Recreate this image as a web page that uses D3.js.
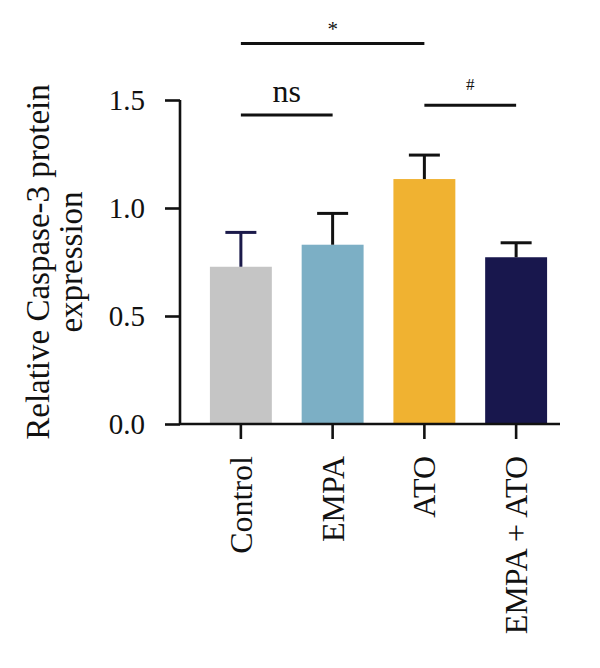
<!DOCTYPE html>
<html lang="en">
<head>
    <meta charset="UTF-8">
    <title>Relative Caspase-3 protein expression</title>
    <script src="https://d3js.org/d3.v7.min.js"></script>
    <style>
        body { margin: 0; background: #fff; }
        svg text { font-family: "Liberation Serif", "Times New Roman", serif; fill: #111; }
    </style>
</head>
<body>
    <div id="chart"></div>

    <script type="text/javascript">
        // values
        let groups = ["Control", "EMPA", "ATO", "EMPA + ATO"];
        let means = [0.728, 0.830, 1.134, 0.772];
        let errors = [0.159, 0.145, 0.111, 0.067];
        let barColors = ["#c5c5c5", "#7cafc5", "#f0b231", "#18174d"];
        let errColors = ["#1b1a4a", "#111", "#111", "#111"];
        let yTicks = [0, 0.5, 1.0, 1.5];

        // significance brackets
        let sigFrom = ["Control", "Control", "ATO"];
        let sigTo = ["ATO", "EMPA", "EMPA + ATO"];
        let sigLevel = [1.761, 1.431, 1.476];
        let sigText = ["*", "ns", "#"];

        let width = 600, height = 668;

        let svg = d3.select("#chart").append("svg")
            .attr("width", width)
            .attr("height", height);

        let x = d3.scaleBand()
            .domain(groups)
            .range([195, 562])
            .paddingInner(0.325)
            .paddingOuter(0.1625);

        let y = d3.scaleLinear()
            .domain([0, 1.5])
            .range([424, 100]);

        // bars
        svg.selectAll("rect.bar")
            .data(groups)
            .enter()
            .append("rect")
            .attr("class", "bar")
            .attr("x", d => x(d))
            .attr("y", (d, i) => y(means[i]))
            .attr("width", x.bandwidth())
            .attr("height", (d, i) => y(0) - y(means[i]))
            .style("fill", (d, i) => barColors[i]);

        // error bars (upper only)
        let eb = svg.selectAll("g.err")
            .data(groups)
            .enter()
            .append("g")
            .attr("class", "err")
            .style("stroke", (d, i) => errColors[i])
            .style("stroke-width", 3);
        eb.append("line")
            .attr("x1", d => x(d) + x.bandwidth() / 2)
            .attr("x2", d => x(d) + x.bandwidth() / 2)
            .attr("y1", (d, i) => y(means[i]))
            .attr("y2", (d, i) => y(means[i] + errors[i]));
        eb.append("line")
            .attr("x1", d => x(d) + x.bandwidth() / 2 - 15.5)
            .attr("x2", d => x(d) + x.bandwidth() / 2 + 15.5)
            .attr("y1", (d, i) => y(means[i] + errors[i]))
            .attr("y2", (d, i) => y(means[i] + errors[i]));

        // y axis
        let yAxis = svg.append("g")
            .attr("transform", "translate(180,0)")
            .call(d3.axisLeft(y).tickValues(yTicks).tickFormat(d3.format(".1f")).tickSize(15).tickPadding(20));
        yAxis.select(".domain").attr("d", "M0," + y(1.5) + "V" + y(0));

        // x axis
        let xAxis = svg.append("g")
            .attr("transform", "translate(0," + y(0) + ")")
            .call(d3.axisBottom(x).tickSize(15).tickSizeOuter(0));
        xAxis.select(".domain").attr("d", "M180,0H560");

        svg.selectAll(".domain, .tick line")
            .style("stroke", "#111")
            .style("stroke-width", 2.6);

        yAxis.selectAll(".tick text")
            .style("font-size", "29px")
            .attr("dy", "0.34em");

        xAxis.selectAll(".tick text")
            .style("font-size", "32px")
            .attr("text-anchor", "end")
            .attr("transform", "rotate(-90)")
            .attr("x", -32)
            .attr("y", 0)
            .attr("dy", "0.34em");

        // y label
        let yl = svg.append("text")
            .attr("transform", "translate(49,262) rotate(-90)")
            .attr("text-anchor", "middle")
            .style("font-size", "33px");
        yl.append("tspan").attr("x", 0).attr("y", 0).text("Relative Caspase-3 protein");
        yl.append("tspan").attr("x", 0).attr("y", 33).text("expression");

        // brackets
        let cx = d => x(d) + x.bandwidth() / 2;
        sigText.forEach(function (t, i) {
            let x1 = cx(sigFrom[i]), x2 = cx(sigTo[i]), ly = y(sigLevel[i]);
            svg.append("line")
                .attr("x1", x1).attr("x2", x2)
                .attr("y1", ly).attr("y2", ly)
                .style("stroke", "#111")
                .style("stroke-width", 3);
            let fs = t == "ns" ? 32 : (t == "#" ? 17 : 21);
            let off = t == "ns" ? 13 : (t == "#" ? 15 : 8);
            svg.append("text")
                .attr("x", (x1 + x2) / 2)
                .attr("y", ly - off)
                .attr("text-anchor", "middle")
                .style("font-size", fs + "px")
                .text(t);
        });
    </script>
</body>
</html>
